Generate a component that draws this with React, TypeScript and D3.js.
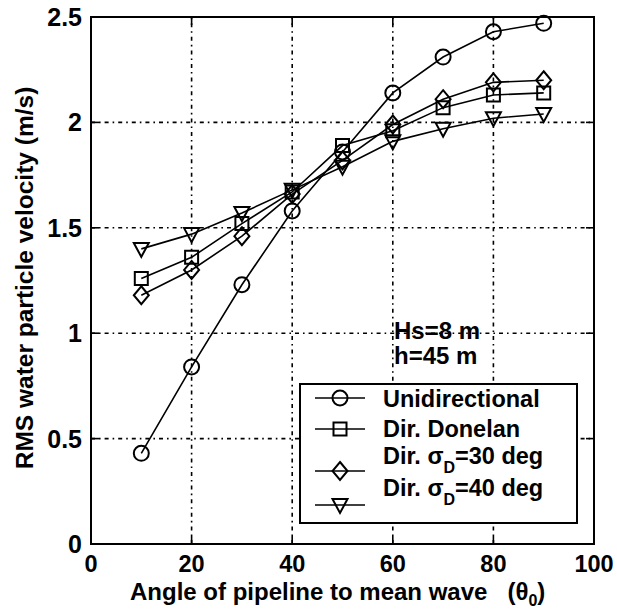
import React from "react";
import * as d3 from "d3";

// Angle of pipeline to mean wave direction (deg)
const angles = [10, 20, 30, 40, 50, 60, 70, 80, 90];
// RMS water particle velocity (m/s) per spreading model
const unidirectional = [0.43, 0.84, 1.23, 1.58, 1.86, 2.14, 2.31, 2.43, 2.47];
const dirDonelan = [1.26, 1.36, 1.52, 1.67, 1.89, 1.96, 2.07, 2.13, 2.14];
const dirSigma30 = [1.18, 1.3, 1.46, 1.66, 1.82, 1.99, 2.11, 2.19, 2.2];
const dirSigma40 = [1.4, 1.47, 1.57, 1.68, 1.79, 1.91, 1.97, 2.02, 2.04];

const xTicks = [0, 20, 40, 60, 80, 100];
const yTicks = [0, 0.5, 1, 1.5, 2, 2.5];
const yTickLabels = ["0", "0.5", "1", "1.5", "2", "2.5"];

type MarkerKind = "circle" | "square" | "diamond" | "triangle";

const seriesList: { name: string; values: number[]; marker: MarkerKind }[] = [
  { name: "Unidirectional", values: unidirectional, marker: "circle" },
  { name: "Dir. Donelan", values: dirDonelan, marker: "square" },
  { name: "sigma30", values: dirSigma30, marker: "diamond" },
  { name: "sigma40", values: dirSigma40, marker: "triangle" },
];

const W = 617;
const H = 611;
const left = 91;
const right = 594;
const top = 17;
const bottom = 544;

const FONT = "'Liberation Sans', Arial, Helvetica, sans-serif";

function markerPath(kind: MarkerKind): string {
  switch (kind) {
    case "circle": {
      const r = 7.5;
      return `M${-r},0A${r},${r} 0 1,0 ${r},0A${r},${r} 0 1,0 ${-r},0Z`;
    }
    case "square": {
      const s = 6.5;
      return `M${-s},${-s}H${s}V${s}H${-s}Z`;
    }
    case "diamond": {
      const w = 7.5;
      const h = 9;
      return `M0,${-h}L${w},0L0,${h}L${-w},0Z`;
    }
    case "triangle": {
      const w = 7.5;
      return `M${-w},-6H${w}L0,8Z`;
    }
  }
}

export default function App() {
  const x = d3.scaleLinear().domain([0, 100]).range([left, right]);
  const y = d3.scaleLinear().domain([0, 2.5]).range([bottom, top]);

  const line = d3
    .line<[number, number]>()
    .x((d) => x(d[0]))
    .y((d) => y(d[1]));

  const gridDash = "4,4,1.6,4";

  const legend = { x0: 300, y0: 384, x1: 577, y1: 523 };
  const legendRows = [
    { marker: "circle" as MarkerKind, ly: 398, ty: 407 },
    { marker: "square" as MarkerKind, ly: 429, ty: 437 },
    { marker: "diamond" as MarkerKind, ly: 471, ty: 464 },
    { marker: "triangle" as MarkerKind, ly: 505, ty: 496 },
  ];

  return (
    <svg
      width={W}
      height={H}
      style={{ position: "absolute", left: 0, top: 0, background: "#fff" }}
      fontFamily={FONT}
      fontWeight="bold"
    >
      <rect x={0} y={0} width={W} height={H} fill="#fff" />

      {/* grid */}
      <g stroke="#000" strokeWidth={1.6} strokeDasharray={gridDash}>
        {xTicks.slice(1, -1).map((t) => (
          <line key={"gx" + t} x1={x(t)} x2={x(t)} y1={bottom} y2={top} />
        ))}
        {yTicks.slice(1, -1).map((t) => (
          <line key={"gy" + t} x1={left} x2={right} y1={y(t)} y2={y(t)} />
        ))}
      </g>

      {/* inward ticks */}
      <g stroke="#000" strokeWidth={1.6}>
        {xTicks.map((t) => (
          <g key={"tx" + t}>
            <line x1={x(t)} x2={x(t)} y1={bottom} y2={bottom - 8} />
            <line x1={x(t)} x2={x(t)} y1={top} y2={top + 8} />
          </g>
        ))}
        {yTicks.map((t) => (
          <g key={"ty" + t}>
            <line x1={left} x2={left + 8} y1={y(t)} y2={y(t)} />
            <line x1={right} x2={right - 8} y1={y(t)} y2={y(t)} />
          </g>
        ))}
      </g>

      {/* series */}
      {seriesList.map((s) => {
        const pts: [number, number][] = angles.map((a, i) => [a, s.values[i]]);
        return (
          <g key={s.name}>
            <path d={line(pts) ?? ""} fill="none" stroke="#000" strokeWidth={1.6} />
            {pts.map((p, i) => (
              <path
                key={i}
                d={markerPath(s.marker)}
                transform={`translate(${x(p[0])},${y(p[1])})`}
                fill="none"
                stroke="#000"
                strokeWidth={2}
              />
            ))}
          </g>
        );
      })}

      {/* frame */}
      <rect
        x={left}
        y={top}
        width={right - left}
        height={bottom - top}
        fill="none"
        stroke="#000"
        strokeWidth={2}
      />

      {/* tick labels */}
      <g fill="#000">
        {xTicks.map((t) => (
          <text key={"lx" + t} x={x(t)} y={572} fontSize={23.5} textAnchor="middle">
            {t}
          </text>
        ))}
        {yTicks.map((t, i) => (
          <text key={"ly" + t} x={82} y={y(t) + 9} fontSize={25} textAnchor="end">
            {yTickLabels[i]}
          </text>
        ))}
      </g>

      {/* axis titles */}
      <text x={130} y={600} fontSize={24} fill="#000">
        Angle of pipeline to mean wave{"\u00a0\u00a0\u00a0"}(θ
        <tspan fontSize={16} dy={6}>0</tspan>
        <tspan dy={-6}>)</tspan>
      </text>
      <text
        transform={`translate(33,278) rotate(-90)`}
        fontSize={24.5}
        textAnchor="middle"
        fill="#000"
      >
        RMS water particle velocity (m/s)
      </text>

      {/* annotations */}
      <g fontSize={24} fill="#000">
        <text x={394} y={339}>Hs=8 m</text>
        <text x={394} y={364}>h=45 m</text>
      </g>

      {/* legend */}
      <rect
        x={legend.x0}
        y={legend.y0}
        width={legend.x1 - legend.x0}
        height={legend.y1 - legend.y0}
        fill="#fff"
        stroke="#000"
        strokeWidth={2}
      />
      {legendRows.map((r, i) => (
        <g key={"leg" + i}>
          <line x1={315} x2={365} y1={r.ly} y2={r.ly} stroke="#000" strokeWidth={1.6} />
          <path
            d={markerPath(r.marker)}
            transform={`translate(340,${r.ly})`}
            fill="none"
            stroke="#000"
            strokeWidth={2}
          />
        </g>
      ))}
      <g fontSize={23.5} fill="#000">
        <text x={383} y={legendRows[0].ty}>Unidirectional</text>
        <text x={383} y={legendRows[1].ty}>Dir. Donelan</text>
        <text x={383} y={legendRows[2].ty}>
          Dir. σ<tspan fontSize={16} dy={9}>D</tspan>
          <tspan dy={-9}>=30 deg</tspan>
        </text>
        <text x={383} y={legendRows[3].ty}>
          Dir. σ<tspan fontSize={16} dy={9}>D</tspan>
          <tspan dy={-9}>=40 deg</tspan>
        </text>
      </g>
    </svg>
  );
}
